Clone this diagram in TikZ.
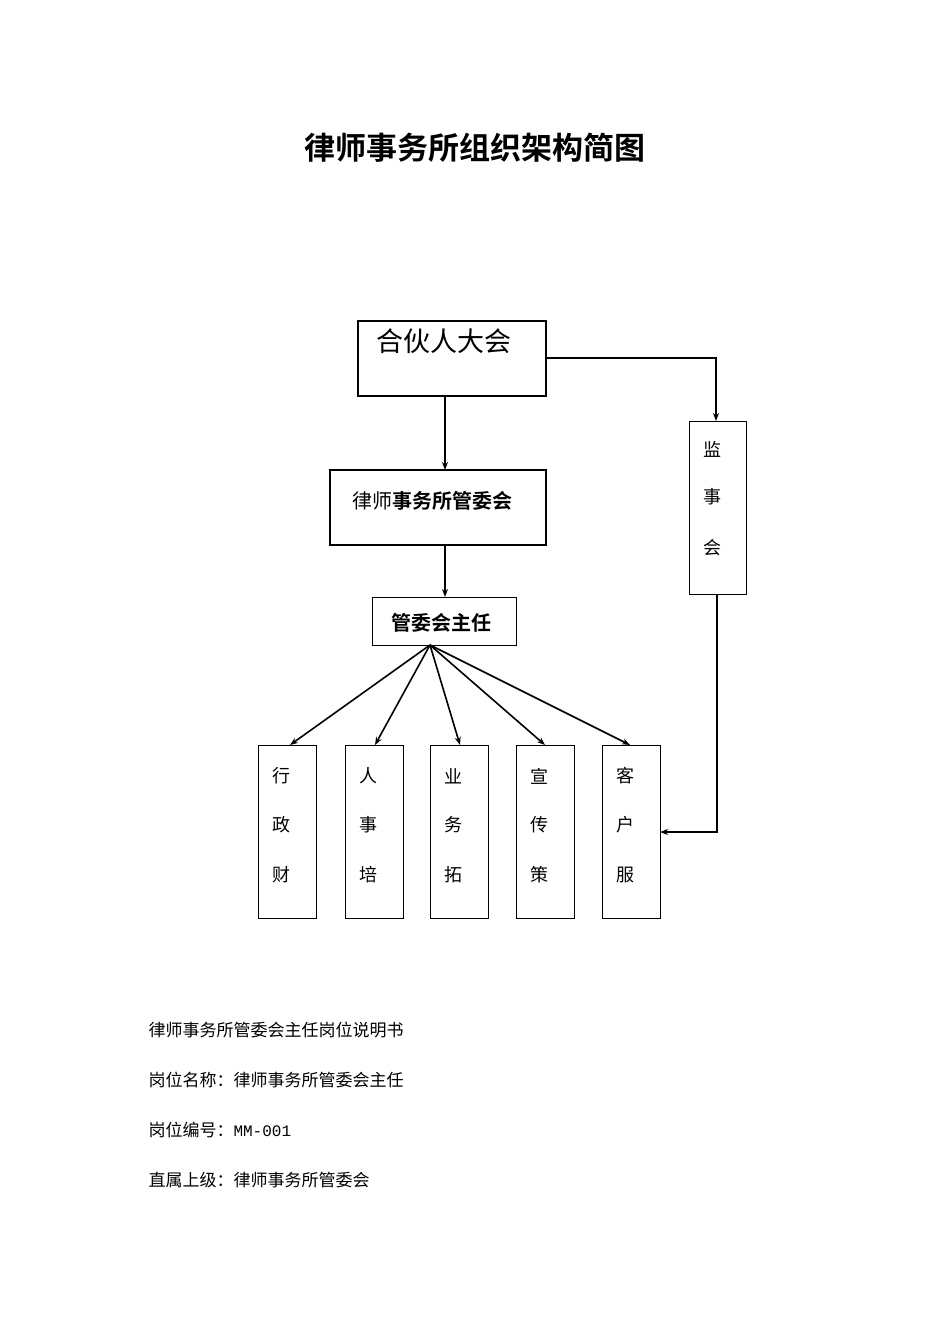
\documentclass[tikz,border=0pt]{standalone}
\usepackage{fontspec}
\newfontfamily\cjk{Noto Sans CJK SC}
\newfontfamily\cjkb{Noto Sans CJK SC Bold}
\newfontfamily\mono{Liberation Mono}
\usetikzlibrary{arrows.meta}
\begin{document}
\begin{tikzpicture}[x=1pt,y=-1pt,
  thickbox/.style={draw,line width=2pt},
  thinbox/.style={draw,line width=1pt},
  arr/.style={-{Stealth[length=8pt,width=6pt]},line width=1.6pt},
  lbl/.style={font=\cjk\fontsize{18}{18}\selectfont},
  note/.style={anchor=west,font=\cjk\fontsize{17}{17}\selectfont}]
\useasboundingbox (0,0) rectangle (950,1344);
\node (title) at (475,148) {\cjkb\fontsize{31}{31}\selectfont 律师事务所组织架构简图};
% main boxes
\draw[thickbox] (358,321) rectangle (546,396);
\coordinate (b1r) at (546,358); \coordinate (b1b) at (445,396);
\node (t1) at (444,341) {\cjk\fontsize{27}{27}\selectfont 合伙人大会};
\draw[thickbox] (330,470) rectangle (546,545);
\coordinate (b2t) at (445,470); \coordinate (b2b) at (445,545);
\node (t2) at (432,501) {\cjk\fontsize{20}{20}\selectfont 律师{\cjkb 事务所管委会}};
\draw[thinbox] (372,597) rectangle (516,645);
\coordinate (b3t) at (445,597); \coordinate (hub) at (430,645);
\node (t3) at (441,623) {\cjkb\fontsize{20}{20}\selectfont 管委会主任};
% supervisory board
\draw[thinbox] (689,421) rectangle (746,594);
\coordinate (jt) at (716,421); \coordinate (jb) at (717,594);
\node[lbl] (j1) at (712,449) {监};
\node[lbl] (j2) at (712,497) {事};
\node[lbl] (j3) at (712,548) {会};
% arrows
\draw[arr] (b1r) -- (716,358) -- (jt);
\draw[arr] (b1b) -- (b2t);
\draw[arr] (b2b) -- (b3t);
% bottom boxes
\foreach \x/\a/\b/\c/\n in {258/行/政/财/1,345/人/事/培/2,430/业/务/拓/3,516/宣/传/策/4,602/客/户/服/5}{
  \draw[thinbox] (\x,745) rectangle ++(58,173);
  \coordinate (top\n) at (\x+31,745);
  \node[lbl] (a\n) at (\x+23,776) {\a};
  \node[lbl] (b\n) at (\x+23,825) {\b};
  \node[lbl] (c\n) at (\x+23,875) {\c};
}
\coordinate (top1) at (290,745); \coordinate (top2) at (375,745);
\coordinate (top3) at (460,745); \coordinate (top4) at (545,745);
\coordinate (top5) at (630,745);
\foreach \n in {1,...,5} \draw[arr] (hub) -- (top\n);
\coordinate (kr) at (660,832);
\draw[arr] (jb) -- (717,832) -- (kr);
% notes
\node[note] (n1) at (145,1030) {律师事务所管委会主任岗位说明书};
\node[note] (n2) at (145,1080) {岗位名称：律师事务所管委会主任};
\node[note] (n3) at (145,1130) {岗位编号：{\mono\fontsize{16}{16}\selectfont MM-001}};
\node[note] (n4) at (145,1180) {直属上级：律师事务所管委会};
\end{tikzpicture}
\end{document}
